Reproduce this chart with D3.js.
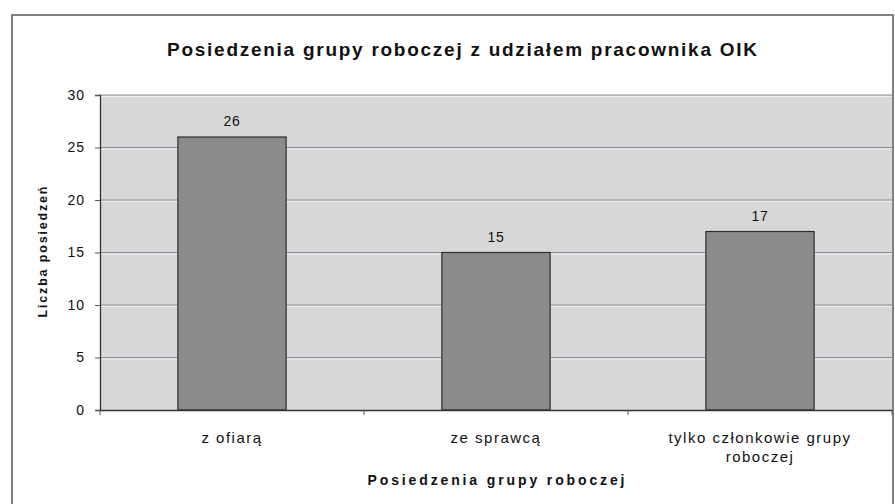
<!DOCTYPE html>
<html>
<head>
<meta charset="utf-8">
<script src="https://cdn.jsdelivr.net/npm/d3@7"></script>
<style>
  body { margin: 0; background: #fff; }
  svg text { font-family: "Liberation Sans", Arial, sans-serif; fill: #111; }
</style>
</head>
<body>
<svg id="chart" width="895" height="504"></svg>
<script>
const categories = ["z ofiarą", "ze sprawcą", "tylko członkowie grupy roboczej"];
const categoryLines = [["z ofiarą"], ["ze sprawcą"], ["tylko członkowie grupy", "roboczej"]];
const values = [26, 15, 17];
const yTicks = [0, 5, 10, 15, 20, 25, 30];
const title = "Posiedzenia grupy roboczej z udziałem pracownika OIK";
const xTitle = "Posiedzenia grupy roboczej";
const yTitle = "Liczba posiedzeń";

const svg = d3.select("#chart");
const plot = { left: 100, top: 95, right: 892, bottom: 410 };

// outer frame
svg.append("rect").attr("x", 12).attr("y", 15).attr("width", 881).attr("height", 500)
  .attr("fill", "#fff").attr("stroke", "#5a5a5a").attr("stroke-width", 1.5);

const x = d3.scaleBand().domain(d3.range(categories.length))
  .range([plot.left, plot.right]).paddingInner(0.59).paddingOuter(0.295);
const xBand = d3.scaleBand().domain(d3.range(categories.length))
  .range([plot.left, plot.right]);
const y = d3.scaleLinear().domain([0, 30]).range([plot.bottom, plot.top]);

// plot background
svg.append("rect").attr("x", plot.left).attr("y", plot.top)
  .attr("width", plot.right - plot.left).attr("height", plot.bottom - plot.top)
  .attr("fill", "#d8d8db");

// gridlines
const grid = svg.append("g");
yTicks.filter(t => t > 0).forEach(t => {
  grid.append("line").attr("x1", plot.left).attr("x2", plot.right)
    .attr("y1", y(t) + 1.5).attr("y2", y(t) + 1.5).attr("stroke", "#efeff2").attr("stroke-width", 1);
  grid.append("line").attr("x1", plot.left).attr("x2", plot.right)
    .attr("y1", y(t)).attr("y2", y(t)).attr("stroke", "#8d8d90").attr("stroke-width", 1.2);
});

// bars
svg.append("g").selectAll("rect").data(values).join("rect")
  .attr("x", (d, i) => x(i)).attr("width", x.bandwidth())
  .attr("y", d => y(d)).attr("height", d => y(0) - y(d))
  .attr("fill", "#8b8b8d").attr("stroke", "#2e2e2e").attr("stroke-width", 1.2);

// value labels
svg.append("g").selectAll("text").data(values).join("text")
  .attr("x", (d, i) => x(i) + x.bandwidth() / 2).attr("y", d => y(d) - 11)
  .attr("text-anchor", "middle").attr("font-size", 14).attr("letter-spacing", 0.8)
  .text(d => d);

// y axis
const yAxis = d3.axisLeft(y).tickValues(yTicks).tickSize(5).tickPadding(10);
const gy = svg.append("g").attr("transform", `translate(${plot.left},0)`).call(yAxis);
gy.select(".domain").attr("stroke", "#333").attr("stroke-width", 1.3);
gy.selectAll(".tick line").attr("stroke", "#555");
gy.selectAll(".tick text").attr("font-size", 14).attr("letter-spacing", 1)
  .attr("font-family", "Liberation Sans, Arial, sans-serif").attr("fill", "#111");

// x axis
const xAxis = d3.axisBottom(xBand).tickSize(0).tickFormat("");
const gx = svg.append("g").attr("transform", `translate(0,${plot.bottom})`).call(xAxis);
gx.select(".domain").attr("stroke", "#333").attr("stroke-width", 1.3);
[0, 1, 2, 3].forEach(i => {
  const xv = i < 3 ? xBand(i) : plot.right;
  gx.append("line").attr("x1", xv).attr("x2", xv).attr("y1", 0).attr("y2", 5).attr("stroke", "#555");
});

// category labels
const catG = svg.append("g");
categoryLines.forEach((lines, i) => {
  lines.forEach((ln, j) => {
    catG.append("text").attr("x", xBand(i) + xBand.bandwidth() / 2)
      .attr("y", 443 + j * 19).attr("text-anchor", "middle")
      .attr("font-size", 15).attr("letter-spacing", 1.5).text(ln);
  });
});

// title
svg.append("text").attr("x", 462).attr("y", 56).attr("text-anchor", "middle")
  .attr("font-size", 19).attr("font-weight", "bold")
  .attr("textLength", 590).attr("lengthAdjust", "spacing").text(title);

// x axis title
svg.append("text").attr("x", 496).attr("y", 485).attr("text-anchor", "middle")
  .attr("font-size", 14).attr("font-weight", "bold")
  .attr("textLength", 257).attr("lengthAdjust", "spacing").text(xTitle);

// y axis title
svg.append("text").attr("transform", "translate(47,252) rotate(-90)")
  .attr("text-anchor", "middle").attr("font-size", 12.5).attr("font-weight", "bold")
  .attr("textLength", 131).attr("lengthAdjust", "spacing").text(yTitle);
</script>
</body>
</html>
